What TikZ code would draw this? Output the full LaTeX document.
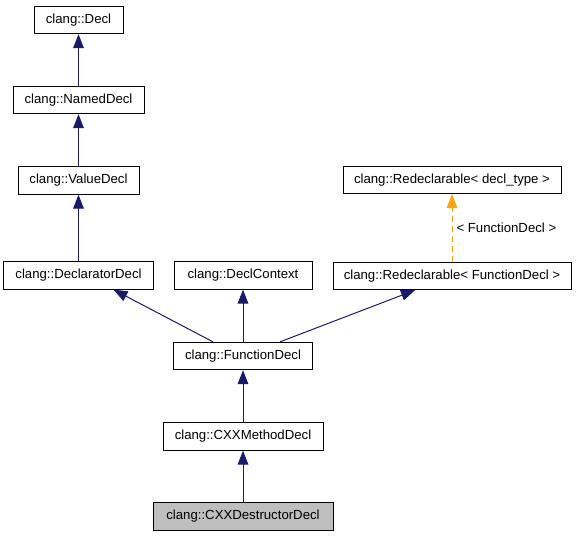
\documentclass[tikz,border=0pt]{standalone}
\usepackage{fontspec}
\setmainfont{Liberation Sans}
\usetikzlibrary{arrows.meta,calc}
\definecolor{edgeblue}{HTML}{191970}
\definecolor{edgeorange}{HTML}{FFA500}
\definecolor{curfill}{HTML}{BFBFBF}
\tikzset{
  cls/.style={draw=black, line width=0.75pt, fill=white, inner sep=0pt, minimum height=20.5pt, font=\fontsize{9.9}{11}\selectfont},
  inh/.style={draw=edgeblue, line width=0.75pt, -{Triangle[length=10.5pt,width=8pt]}},
  tmpl/.style={draw=edgeorange, line width=0.75pt, dashed, dash pattern=on 4.5pt off 3pt, -{Triangle[length=10.5pt,width=8pt]}},
  lbl/.style={font=\fontsize{9.9}{11}\selectfont, inner sep=0pt, anchor=west}
}
\begin{document}
\begin{tikzpicture}[x=0.75pt,y=-0.75pt]
\useasboundingbox (0,0) rectangle (576,536);
\node[cls, minimum width=66.75pt] (decl) at (78.5,20) {clang::Decl};
\node[cls, minimum width=98.25pt] (named) at (78.5,100) {clang::NamedDecl};
\node[cls, minimum width=90.75pt] (value) at (78.5,180.5) {clang::ValueDecl};
\node[cls, minimum width=112.5pt] (declarator) at (78.5,275.5) {clang::DeclaratorDecl};
\node[cls, minimum width=103.5pt] (ctx) at (243,275.5) {clang::DeclContext};
\node[cls, minimum width=178.5pt] (rfd) at (452,276) {clang::Redeclarable< FunctionDecl >};
\node[cls, minimum width=163.5pt] (rdt) at (452,180) {clang::Redeclarable< decl\_type >};
\node[cls, minimum width=104.25pt] (fd) at (243,356) {clang::FunctionDecl};
\node[cls, minimum width=120pt] (md) at (243,436.5) {clang::CXXMethodDecl};
\node[cls, minimum width=135pt, fill=curfill] (dd) at (243,516.5) {clang::CXXDestructorDecl};

\draw[inh] (named) -- (decl);
\draw[inh] (value) -- (named);
\draw[inh] (declarator) -- (value);
\draw[inh] ($(fd.north)+(-30,0)$) -- ($(declarator.south)+(35,0)$);
\draw[inh] (fd) -- (ctx);
\draw[inh] ($(fd.north)+(37,0)$) -- ($(rfd.south)+(-37,0)$);
\draw[inh] (md) -- (fd);
\draw[inh] (dd) -- (md);
\draw[tmpl] (rfd) -- (rdt) node[lbl, pos=0.5, xshift=3pt] (tl) {< FunctionDecl >};
\end{tikzpicture}
\end{document}
